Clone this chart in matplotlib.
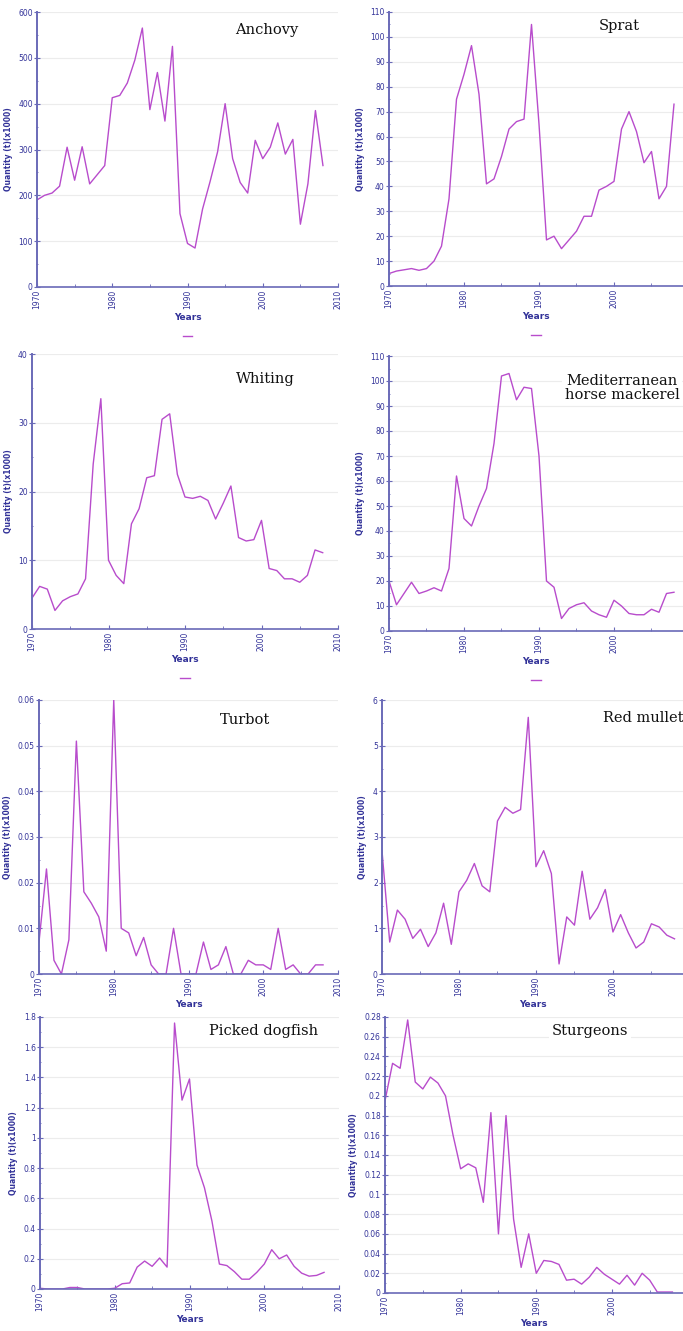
import numpy as np
import matplotlib
matplotlib.use("Agg")
import matplotlib.pyplot as plt
from matplotlib.ticker import MultipleLocator, FuncFormatter

years = list(range(1970, 2009))

anchovy = [190, 200, 205, 220, 305, 233, 306, 225, 245, 265,
           413, 418, 445, 495, 565, 387, 468, 362, 525, 160,
           95, 85, 170, 230, 295, 400, 280, 228, 205, 320,
           280, 305, 358, 290, 322, 137, 225, 385, 265]
sprat = [5, 6, 6.5, 7, 6.3, 7, 10, 16, 35, 75,
         85, 96.5, 77, 41, 43, 52, 63, 66, 67, 105,
         65, 18.5, 20, 15, 18.5, 22, 28, 28, 38.5, 40,
         42, 63, 70, 62, 49.5, 54, 35, 40, 73]
whiting = [4.5, 6.2, 5.8, 2.7, 4.1, 4.7, 5.1, 7.3, 24, 33.5,
           10, 7.8, 6.6, 15.3, 17.5, 22, 22.3, 30.5, 31.3, 22.5,
           19.2, 19, 19.3, 18.7, 16, 18.3, 20.8, 13.3, 12.8, 13,
           15.8, 8.8, 8.5, 7.3, 7.3, 6.8, 7.8, 11.5, 11.1]
mackerel = [20, 10.5, 15, 19.5, 15, 16, 17.3, 16, 25, 62,
            45, 42, 50, 57, 75, 102, 103, 92.5, 97.5, 97,
            70, 20, 17.5, 5, 9, 10.5, 11.3, 8, 6.5, 5.5,
            12.3, 10, 7, 6.5, 6.5, 8.7, 7.5, 15, 15.5]
turbot = [0.007, 0.023, 0.003, 0, 0.0075, 0.051, 0.018, 0.0155, 0.0125, 0.005,
          0.06, 0.01, 0.009, 0.004, 0.008, 0.002, 0, 0, 0.01, 0,
          0, 0, 0.007, 0.001, 0.002, 0.006, 0, 0, 0.003, 0.002,
          0.002, 0.001, 0.01, 0.001, 0.002, 0, 0, 0.002, 0.002]
red_mullet = [2.7, 0.7, 1.4, 1.2, 0.78, 0.98, 0.6, 0.9, 1.55, 0.65,
              1.8, 2.05, 2.42, 1.93, 1.8, 3.35, 3.65, 3.52, 3.6, 5.62,
              2.35, 2.7, 2.2, 0.22, 1.25, 1.07, 2.25, 1.2, 1.45, 1.85,
              0.92, 1.3, 0.9, 0.57, 0.7, 1.1, 1.03, 0.85, 0.77]
dogfish = [0.005, 0, 0, 0, 0.01, 0.01, 0, 0, 0, 0,
           0.005, 0.035, 0.04, 0.145, 0.185, 0.15, 0.205, 0.145, 1.76, 1.25,
           1.39, 0.82, 0.67, 0.45, 0.165, 0.155, 0.115, 0.065, 0.065, 0.11,
           0.165, 0.26, 0.2, 0.225, 0.15, 0.105, 0.085, 0.09, 0.11]
sturgeons = [0.195, 0.233, 0.228, 0.277, 0.214, 0.207, 0.219, 0.213, 0.2, 0.16,
             0.126, 0.131, 0.127, 0.092, 0.183, 0.06, 0.18, 0.075, 0.026, 0.06,
             0.02, 0.033, 0.032, 0.029, 0.013, 0.014, 0.009, 0.016, 0.026, 0.019,
             0.014, 0.009, 0.018, 0.008, 0.02, 0.013, 0.001, 0.001, 0.001]

W, H = 683, 1331
LINE = '#b84ccc'
NAVY = '#333399'
SPINE = '#6a6ab8'

fig = plt.figure(figsize=(W / 100, H / 100), dpi=100)


def panel(box, data, ymax, ystep, yminor, title, tpos, xmax=2010):
    l, t, r, b = box
    ax = fig.add_axes([l / W, 1 - b / H, (r - l) / W, (b - t) / H])
    line, = ax.plot(years, data, color=LINE, lw=1.0)
    ax.set_xlim(1970, xmax)
    ax.set_ylim(0, ymax)
    ax.xaxis.set_major_locator(MultipleLocator(10))
    ax.xaxis.set_minor_locator(MultipleLocator(5))
    ax.yaxis.set_major_locator(MultipleLocator(ystep))
    ax.yaxis.set_minor_locator(MultipleLocator(yminor))
    ax.yaxis.set_major_formatter(FuncFormatter(lambda v, p: '%g' % round(v, 4)))
    ax.grid(axis='y', color='#ececec', lw=0.8)
    ax.set_axisbelow(True)
    for s in ['top', 'right']:
        ax.spines[s].set_visible(False)
    ax.spines['left'].set_color(SPINE)
    ax.spines['left'].set_linewidth(1.4)
    ax.spines['bottom'].set_color(SPINE)
    ax.spines['bottom'].set_linewidth(1.2)
    ax.tick_params(axis='x', which='both', direction='in', colors=SPINE,
                   labelcolor=NAVY, labelsize=5.5, labelrotation=90, pad=2)
    ax.tick_params(axis='x', which='major', length=3)
    ax.tick_params(axis='x', which='minor', length=2)
    ax.tick_params(axis='y', which='both', direction='inout', colors=SPINE,
                   labelcolor=NAVY, labelsize=5.5, pad=1)
    ax.tick_params(axis='y', which='major', length=4)
    ax.tick_params(axis='y', which='minor', length=2)
    ax.set_xlabel('Years', fontsize=6.5, color=NAVY, fontweight='bold', labelpad=3)
    ax.set_ylabel('Quantity (t)(x1000)', fontsize=5.5, color=NAVY,
                  fontweight='bold', labelpad=4)
    ax.legend(handles=[line], labels=[''], loc='upper center',
              bbox_to_anchor=(0.5, -0.13), frameon=False, handlelength=0.7,
              handletextpad=0, borderpad=0)
    tx, ty = tpos
    fig.text(tx / W, 1 - ty / H, title, ha='center', va='center',
             family='DejaVu Serif', fontsize=10.5, color='#111111',
             linespacing=1.05,
             bbox=dict(facecolor='white', edgecolor='none', pad=2))
    return ax


panel((37, 12, 338, 287), anchovy, 600, 100, 50, 'Anchovy', (267, 30))
panel((389, 12, 683, 286), sprat, 110, 10, 5, 'Sprat', (619, 26), xmax=2009.2)
panel((32, 354, 338, 629), whiting, 40, 10, 5, 'Whiting', (265, 379))
panel((389, 356, 683, 631), mackerel, 110, 10, 5,
      'Mediterranean\nhorse mackerel', (622, 388), xmax=2009.2)
panel((39, 700, 338, 974), turbot, 0.06, 0.01, 0.005, 'Turbot', (245, 720))
panel((382, 700, 683, 974), red_mullet, 6, 1, 0.5, 'Red mullet', (643, 718),
      xmax=2009.1)
panel((40, 1017, 339, 1289), dogfish, 1.8, 0.2, 0.1, 'Picked dogfish', (264, 1031))
panel((385, 1017, 683, 1293), sturgeons, 0.28, 0.02, 0.01, 'Sturgeons', (590, 1031),
      xmax=2009.4)

fig.savefig('out.png', dpi=100)
